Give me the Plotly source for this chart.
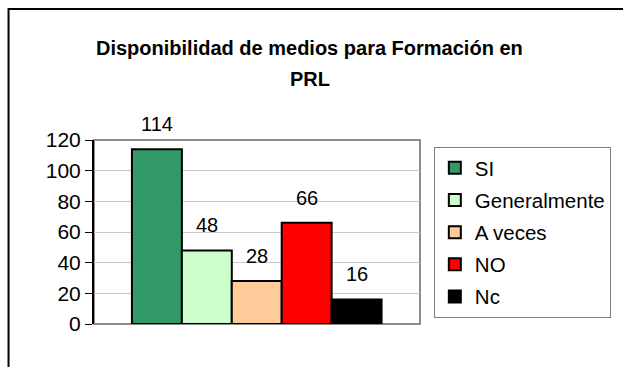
import plotly.graph_objects as go

# Survey answers and their counts
categories = ["SI", "Generalmente", "A veces", "NO", "Nc"]
counts = [114, 48, 28, 66, 16]
colors = ["#339966", "#CCFFCC", "#FFCC99", "#FF0000", "#000000"]

y_ticks = [0, 20, 40, 60, 80, 100, 120]

title_lines = ["Disponibilidad de medios para Formación en", "PRL"]

FONT = "Arial, Liberation Sans, sans-serif"

W, H = 623, 367
L, R, T, B = 94, 201, 140, 43
pw, ph = W - L - R, H - T - B


def px(xp):
    return (xp - L) / pw


def py(yp):
    return (H - B - yp) / ph


fig = go.Figure()
for i, (name, val, col) in enumerate(zip(categories, counts, colors)):
    fig.add_trace(go.Bar(
        x=[i], y=[val], width=1, name=name, legendgroup=name,
        marker=dict(color=col, line=dict(color="#000000", width=2)),
        hoverinfo="name+y",
    ))

# value labels above each bar
annotations = [
    dict(x=i, y=v, xref="x", yref="y", text=str(v), showarrow=False,
         yanchor="bottom", yshift=12, font=dict(size=20, color="#000000", family=FONT))
    for i, v in enumerate(counts)
]
# two-line chart title
for line, yc in zip(title_lines, [48, 79]):
    annotations.append(dict(
        text=f"<b>{line}</b>", xref="paper", yref="paper",
        x=px(311), y=py(yc), xanchor="center", yanchor="middle",
        showarrow=False, font=dict(size=20, color="#000000", family=FONT),
    ))

shapes = [
    # plot area frame
    dict(type="rect", xref="paper", yref="paper", x0=0, x1=1, y0=0, y1=1,
         line=dict(color="#8c8c8c", width=2), layer="below"),
    # outer chart frame (top and left edges)
    dict(type="path", xref="paper", yref="paper",
         path=f"M {px(8)} {py(380)} L {px(8)} {py(9)} L {px(640)} {py(9)}",
         line=dict(color="#000000", width=2)),
]

fig.update_layout(
    width=W, height=H,
    margin=dict(l=L, r=R, t=T, b=B),
    paper_bgcolor="#FFFFFF", plot_bgcolor="#FFFFFF",
    font=dict(family=FONT, size=20, color="#000000"),
    barmode="overlay",
    showlegend=True,
    legend=dict(
        x=px(614), y=py(147), xanchor="right", yanchor="top",
        bordercolor="#808080", borderwidth=1, bgcolor="#FFFFFF",
        font=dict(size=20.5, family=FONT, color="#000000"),
        traceorder="grouped", tracegroupgap=2.5,
        itemwidth=30,
    ),
    annotations=annotations,
    shapes=shapes,
    xaxis=dict(range=[-1.26, 5.27], showticklabels=False, showgrid=False,
               zeroline=False, showline=False, ticks="", fixedrange=True),
    yaxis=dict(range=[0, 120], tickvals=y_ticks, ticks="outside", ticklen=7,
               tickcolor="#000000", showline=True, linecolor="#000000", linewidth=2,
               gridcolor="#c8c8c8", gridwidth=1, zeroline=False,
               tickfont=dict(size=21, family=FONT, color="#000000"), fixedrange=True),
)

fig.write_html("out.html")
